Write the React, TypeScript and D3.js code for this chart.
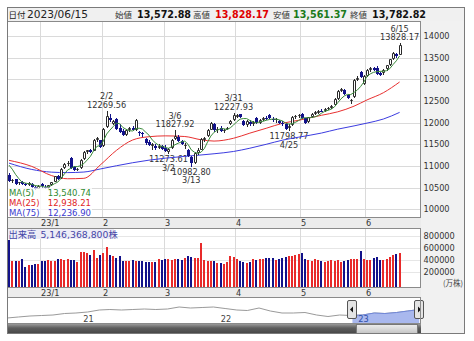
import React from "react";
import * as d3 from "d3";

// ---------------- DATA ----------------
const decDays = ["19","20","21","22","23","26","27","28","29","30"];
const janDays = ["04","05","06","10","11","12","13","16","17","18","19","20","23","24","25","26","27","30","31"];
const febDays = ["01","02","03","06","07","08","09","10","13","14","15","16","17","20","21","22","24","27","28"];
const marDays = ["01","02","03","06","07","08","09","10","13","14","15","16","17","20","22","23","24","27","28","29","30","31"];
const aprDays = ["03","04","05","06","07","10","11","12","13","14","17","18","19","20","21","24","25","26","27","28"];
const mayDays = ["01","02","08","09","10","11","12","15","16","17","18","19","22","23","24","25","26","29","30","31"];
const junDays = ["01","02","05","06","07","08","09","12","13","14","15"];

const tradingDays: string[] = [
  ...decDays.map((d) => "2022-12-" + d),
  ...janDays.map((d) => "2023-01-" + d),
  ...febDays.map((d) => "2023-02-" + d),
  ...marDays.map((d) => "2023-03-" + d),
  ...aprDays.map((d) => "2023-04-" + d),
  ...mayDays.map((d) => "2023-05-" + d),
  ...junDays.map((d) => "2023-06-" + d),
];

// [open, high, low, close]
const candles: number[][] = [
  [10800,10830,10640,10660],[10650,10700,10600,10680],[10690,10700,10560,10580],[10600,10640,10550,10620],
  [10620,10650,10560,10590],[10580,10610,10530,10560],[10570,10620,10540,10600],[10590,10600,10500,10520],
  [10510,10540,10440,10470],[10480,10560,10460,10540],
  [10580,10600,10500,10530],[10520,10570,10470,10500],[10500,10560,10470,10550],[10560,10640,10540,10620],
  [10640,10780,10620,10760],[10770,10790,10680,10710],[10720,10960,10700,10940],[10950,11060,10930,11040],
  [11050,11110,11010,11080],[11180,11200,10940,10960],[10980,11000,10890,10910],[10920,10960,10880,10940],
  [10960,11160,10940,11140],[11150,11350,11130,11330],[11320,11380,11280,11360],[11360,11400,11300,11330],
  [11350,11620,11340,11600],[11590,11660,11560,11640],[11600,11610,11420,11440],
  [11460,11880,11440,11860],[11900,12269.56,11880,12150],[12100,12200,12020,12050],[11960,12060,11940,12040],
  [12080,12110,11820,11850],[11880,11960,11760,11780],[11800,11850,11690,11720],[11720,11860,11700,11840],
  [11830,11900,11790,11880],[11870,11930,11800,11820],[11830,12080,11810,12050],[11780,11800,11700,11770],
  [11760,11780,11680,11740],[11620,11640,11480,11520],[11560,11600,11460,11480],[11460,11530,11380,11500],
  [11470,11500,11380,11420],[11420,11500,11400,11470],[11460,11480,11360,11400],
  [11420,11480,11320,11350],[11330,11420,11273.61,11400],[11420,11620,11400,11600],[11620,11827.92,11600,11700],
  [11680,11720,11560,11580],[11570,11600,11480,11500],[11450,11520,11400,11490],[11380,11400,11200,11230],
  [11200,11240,10982.80,11060],[11080,11320,11050,11300],[11310,11420,11260,11380],[11380,11650,11360,11620],
  [11600,11680,11560,11640],[11700,11860,11680,11820],[11830,12020,11820,11990],[11960,11990,11780,11820],
  [11820,11900,11760,11860],[11880,11920,11780,11800],[11800,11860,11760,11830],[11870,11900,11820,11880],
  [11960,12060,11940,12040],[12060,12227.93,12040,12180],
  [12140,12200,12100,12180],[12190,12210,12110,12120],[12040,12070,11920,11950],[11940,12060,11910,12040],
  [12020,12050,11930,11960],[11960,12040,11930,12020],[12100,12130,11970,12000],[12000,12090,11980,12070],
  [12070,12120,12030,12100],[12110,12160,12050,12080],[12180,12200,12090,12110],[12080,12130,12010,12050],
  [12050,12110,12000,12080],[12040,12060,11970,12000],[12000,12040,11930,11960],[11960,12000,11820,11860],
  [11880,11960,11798.77,11930],[11950,12160,11930,12130],[12120,12170,12080,12150],[12150,12200,12110,12180],
  [12200,12220,12090,12110],[12100,12110,11980,12000],[12010,12140,11990,12120],[12130,12230,12100,12200],
  [12200,12260,12180,12240],[12230,12290,12200,12270],[12280,12310,12240,12260],[12270,12330,12250,12320],
  [12320,12360,12290,12330],[12330,12400,12310,12380],[12400,12560,12380,12540],[12540,12760,12520,12730],
  [12740,12790,12700,12770],[12760,12780,12640,12660],[12640,12660,12540,12560],[12520,12540,12440,12520],
  [12600,13000,12580,12980],[12990,13080,12950,13040],[13160,13200,13040,13060],[12900,13100,12880,13070],
  [13080,13230,13060,13210],[13220,13280,13180,13250],[13260,13290,13200,13220],[13260,13300,13110,13130],
  [13150,13180,13080,13110],[13140,13240,13110,13220],[13240,13340,13200,13320],[13330,13480,13300,13460],
  [13470,13620,13450,13600],[13580,13610,13500,13540],[13572.88,13828.17,13561.37,13782.82],
];

// closes of the 4 sessions before the first visible day (for MA5)
const priorCloses = [11150, 11180, 11100, 11010];

// volume in 万株
const volumes: number[] = [
  733000,390000,390000,390000,410000,290000,320000,310000,340000,330000,
  380000,380000,400000,380000,380000,410000,420000,400000,410000,400000,400000,370000,528000,528000,510000,480000,564000,430000,480000,
  520000,617000,480000,470000,440000,470000,380000,380000,380000,400000,390000,390000,390000,370000,370000,370000,360000,420000,400000,
  420000,420000,400000,420000,420000,400000,430000,460000,450000,440000,430000,688000,400000,390000,380000,380000,350000,350000,340000,370000,467000,450000,
  411000,383000,372000,356000,372000,411000,400000,411000,411000,428000,433000,439000,400000,411000,433000,444000,472000,472000,480000,494000,
  511000,411000,400000,389000,420000,400000,389000,372000,383000,400000,389000,400000,372000,389000,400000,410000,417000,410000,556000,410000,
  400000,400000,433000,447000,400000,400000,417000,447000,480000,500000,514637,
];

const ma25Dates = ["2022-12-19","2022-12-28","2023-01-10","2023-01-17","2023-01-24","2023-01-31","2023-02-07","2023-02-14","2023-02-21","2023-03-01","2023-03-09","2023-03-16","2023-03-23","2023-03-31","2023-04-07","2023-04-14","2023-04-21","2023-04-28","2023-05-12","2023-05-19","2023-05-26","2023-06-01","2023-06-08","2023-06-15"];
const ma25Values = [11130,10990,10780,10705,10715,11020,11360,11600,11675,11695,11680,11605,11575,11640,11758,11870,11985,12055,12170,12250,12380,12525,12690,12938.21];
const ma75Values = [11066,10920,10858,10847,10860,10930,11005,11075,11134,11180,11222,11254,11282,11335,11410,11500,11595,11665,11760,11850,11925,11990,12083,12236.90];

const priceTicks = [10000, 10500, 11000, 11500, 12000, 12500, 13000, 13500, 14000];
const volumeTicks = [200000, 400000, 600000, 800000];
const monthStarts = ["2023-01-04","2023-02-01","2023-03-01","2023-04-03","2023-05-01","2023-06-01"];
const monthLabels = ["23/1","2","3","4","5","6"];

const annotations = [
  { date: "2023-02-02", kind: "high", value: 12269.56 },
  { date: "2023-03-02", kind: "low", value: 11273.61 },
  { date: "2023-03-06", kind: "high", value: 11827.92 },
  { date: "2023-03-13", kind: "low", value: 10982.80 },
  { date: "2023-03-31", kind: "high", value: 12227.93 },
  { date: "2023-04-25", kind: "low", value: 11798.77 },
  { date: "2023-06-15", kind: "high", value: 13828.17 },
];

const headerDate = "2023/06/15";
const headerLabels = ["始値", "高値", "安値", "終値"];
const headerValues = [13572.88, 13828.17, 13561.37, 13782.82];

const maNames = ["MA(5)", "MA(25)", "MA(75)"];
const maLatest = [13540.74, 12938.21, 12236.9];

const volumeLatestShares = 5146368800;

const navMonths = ["2020-06","2020-07","2020-08","2020-09","2020-10","2020-11","2020-12","2021-01","2021-02","2021-03","2021-04","2021-05","2021-06","2021-07","2021-08","2021-09","2021-10","2021-11","2021-12","2022-01","2022-02","2022-03","2022-04","2022-05","2022-06","2022-07","2022-08","2022-09","2022-10","2022-11","2022-12","2023-01","2023-02","2023-03","2023-04","2023-05","2023-06"];
const navValues = [9050,9400,9750,9925,10100,10625,10800,11150,11850,12025,11850,12025,12200,12025,12200,12900,12550,12725,12900,12375,11850,11675,12550,11500,10800,10800,10975,10100,9575,10100,9925,10100,10800,10625,10975,11500,12025];
const navYears = ["2021-01-01", "2022-01-01", "2023-01-01"];
const navYearLabels = ["21", "22", "23"];

// ---------------- LAYOUT / STYLE ----------------
const FONT = "'DejaVu Sans', Verdana, sans-serif";
const CJK = "'Noto Sans CJK JP', sans-serif";
const L = 7, R = 421, RA = 465;
const HEAD_T = 7, HEAD_B = 21;
const P_T = 21, P_B = 218;
const V_T = 228, V_B = 288;
const N_T = 297, N_B = 324, SC_B = 334;
const UP_STROKE = "#2a2a2a";
const DOWN_FILL = "#12128a";
const RED = "#e82a2a";
const GRID = "#dadada";

export default function App() {
  const parse = d3.timeParse("%Y-%m-%d");
  const x = d3.scalePoint<string>().domain(tradingDays).range([9, 399.6]);
  const step = x.step();
  const y = d3.scaleLinear().domain([10000, 14000]).range([209.3, 36]);
  const yv = d3.scaleLinear().domain([0, 800000]).range([284, 236]);

  const closesAll = [...priorCloses, ...candles.map((c) => c[3])];
  const ma5 = tradingDays.map((d, i) => ({ d, v: d3.mean(closesAll.slice(i, i + 5)) as number }));

  const lineLin = d3.line<{ d: string; v: number }>().x((p) => x(p.d)!).y((p) => y(p.v));
  const lineSmooth = d3.line<{ d: string; v: number }>().x((p) => x(p.d)!).y((p) => y(p.v)).curve(d3.curveMonotoneX);
  const ma25 = ma25Dates.map((d, i) => ({ d, v: ma25Values[i] }));
  const ma75 = ma25Dates.map((d, i) => ({ d, v: ma75Values[i] }));

  const gridX = (d: string) => Math.round(x(d)! - step / 2) + 0.5;

  // navigator
  const xn = d3.scaleTime().domain([parse("2020-06-15")!, parse("2023-06-19")!]).range([L, R]);
  const yn = d3.scaleLinear().domain([8000, 15000]).range([321, 301]);
  const navPts = navMonths.map((m, i) => ({ t: parse(m + "-15")!, v: navValues[i] }));
  const navLine = d3.line<{ t: Date; v: number }>().x((p) => xn(p.t)).y((p) => yn(p.v));
  const navArea = d3.area<{ t: Date; v: number }>().x((p) => xn(p.t)).y0(N_B).y1((p) => yn(p.v));
  const selX0 = xn(parse(tradingDays[0])!);
  const selX1 = xn(parse(tradingDays[tradingDays.length - 1])!);

  const fmt2 = d3.format(",.2f");
  const mdFmt = (s: string) => { const t = parse(s)!; return `${t.getMonth() + 1}/${t.getDate()}`; };

  const headerColors = ["#111", "#e00000", "#1a7a1a", "#111"];
  const headerLabelX = [115, 193, 273, 350];
  const headerValueX = [137, 215, 293, 372];
  const maColors = ["#2f8a2f", "#e02424", "#3a3ad0"];

  return (
    <svg width={474} height={341} style={{ position: "absolute", left: 0, top: 0, background: "#fff" }} fontFamily={FONT}>
      <defs>
        <clipPath id="plotClip"><rect x={L} y={P_T} width={R - L} height={P_B - P_T} /></clipPath>
        <clipPath id="volClip"><rect x={L} y={V_T} width={R - L} height={V_B - V_T} /></clipPath>
        <clipPath id="navClip"><rect x={L} y={N_T} width={R - L} height={N_B - N_T} /></clipPath>
        <clipPath id="selClip"><rect x={selX0} y={N_T} width={selX1 - selX0} height={N_B - N_T} /></clipPath>
        <linearGradient id="scrollGrad" x1="0" y1="0" x2="0" y2="1">
          <stop offset="0" stopColor="#9a9a9a" />
          <stop offset="0.4" stopColor="#5e5e5e" />
          <stop offset="1" stopColor="#444" />
        </linearGradient>
        <linearGradient id="thumbGrad" x1="0" y1="0" x2="0" y2="1">
          <stop offset="0" stopColor="#eeeeee" />
          <stop offset="1" stopColor="#c4c4c4" />
        </linearGradient>
      </defs>

      {/* header */}
      <rect x={L + 0.5} y={HEAD_T + 0.5} width={RA - L - 1} height={HEAD_B - HEAD_T} fill="#f0f0f0" stroke="#8a8a8a" />
      <text x={8.5} y={17.5} fontFamily={CJK} fontSize={8.5} fill="#222">日付</text>
      <text x={27} y={18} fontSize={10.6} fill="#222">{headerDate}</text>
      {headerLabels.map((lab, i) => (
        <g key={lab}>
          <text x={headerLabelX[i]} y={17.5} fontFamily={CJK} fontSize={8.5} fill="#333">{lab}</text>
          <text x={headerValueX[i]} y={18} fontSize={9.6} fontWeight="bold" fill={headerColors[i]}>{fmt2(headerValues[i])}</text>
        </g>
      ))}

      {/* main panel backgrounds */}
      <rect x={L} y={P_T} width={R - L} height={P_B - P_T} fill="#fff" />
      <rect x={R} y={P_T} width={RA - R} height={SC_B - P_T} fill="#f1f1f1" />
      <rect x={L} y={P_B} width={R - L} height={V_T - P_B} fill="#ececec" />
      <rect x={L} y={V_B} width={R - L} height={N_T - V_B} fill="#ececec" />

      {/* price grid */}
      {priceTicks.map((t) => (
        <line key={t} x1={L} x2={R} y1={Math.round(y(t)) + 0.5} y2={Math.round(y(t)) + 0.5} stroke={GRID} />
      ))}
      {monthStarts.map((d) => (
        <line key={d} x1={gridX(d)} x2={gridX(d)} y1={P_T} y2={P_B} stroke={GRID} />
      ))}

      <g clipPath="url(#plotClip)">
        {/* annotation labels */}
        {annotations.map((a) => {
          const ax = x(a.date)!;
          const yy = y(a.value);
          const isHigh = a.kind === "high";
          return (
            <g key={a.date} fontSize={8.2} fill="#333" textAnchor="middle">
              <text x={ax} y={isHigh ? yy - 11.5 : yy + 16.5}>{mdFmt(a.date)}</text>
              <text x={ax} y={isHigh ? yy - 3 : yy + 8}>{a.value.toFixed(2)}</text>
            </g>
          );
        })}

        <path d={lineSmooth(ma75) || ""} fill="none" stroke="#3c3ce0" strokeWidth={1} />
        <path d={lineSmooth(ma25) || ""} fill="none" stroke="#e83030" strokeWidth={1} />

        {/* candles */}
        {candles.map((c, i) => {
          const d = tradingDays[i];
          const cx = Math.round(x(d)!);
          const [o, h, l, cl] = c;
          const top = Math.round(y(Math.max(o, cl)));
          const bot = Math.round(y(Math.min(o, cl)));
          const up = cl >= o;
          return (
            <g key={d}>
              <line x1={cx + 0.5} x2={cx + 0.5} y1={Math.round(y(h))} y2={Math.round(y(l))} stroke={up ? UP_STROKE : DOWN_FILL} />
              {up ? (
                <path d={`M${cx - 0.5},${top + 0.5}h2v${Math.max(bot - top - 1, 0)}h-2Z`} fill="#fff" stroke={UP_STROKE} />
              ) : (
                <rect x={cx - 1} y={top} width={3} height={Math.max(bot - top, 1)} fill={DOWN_FILL} />
              )}
            </g>
          );
        })}

        <path d={lineLin(ma5) || ""} fill="none" stroke="#3a8a3a" strokeWidth={1} />
      </g>

      {/* MA legend */}
      <rect x={L} y={187.5} width={85} height={31} fill="#fff" fillOpacity={0.78} />
      {maNames.map((n, i) => (
        <g key={n} fontSize={8.5} fill={maColors[i]}>
          <text x={9} y={196 + i * 10}>{n}</text>
          <text x={91} y={196 + i * 10} textAnchor="end">{fmt2(maLatest[i])}</text>
        </g>
      ))}

      {/* price axis labels */}
      {priceTicks.map((t) => (
        <text key={t} x={423.5} y={y(t)} dy="0.35em" fontSize={8.2} fill="#333">{t}</text>
      ))}

      {/* date labels (main) */}
      {monthStarts.map((d, i) => (
        <text key={d} x={gridX(d) + 0.5} y={226} fontSize={8.2} fill="#333">{monthLabels[i]}</text>
      ))}

      {/* volume panel */}
      <rect x={L} y={V_T} width={R - L} height={V_B - V_T} fill="#fff" />
      {volumeTicks.map((t) => (
        <line key={t} x1={L} x2={R} y1={Math.round(yv(t)) + 0.5} y2={Math.round(yv(t)) + 0.5} stroke="#e6e6e6" />
      ))}
      {monthStarts.map((d) => (
        <line key={d} x1={gridX(d)} x2={gridX(d)} y1={V_T} y2={V_B} stroke={GRID} />
      ))}
      <g clipPath="url(#volClip)">
        {volumes.map((v, i) => {
          const d = tradingDays[i];
          const c = candles[i];
          const top = Math.round(yv(v));
          return (
            <rect key={d} x={Math.round(x(d)! - 1)} y={top} width={2} height={V_B - top} fill={c[3] >= c[0] ? RED : DOWN_FILL} />
          );
        })}
      </g>
      <rect x={L} y={V_T + 0.5} width={107} height={10.5} fill="#ececf6" fillOpacity={0.92} />
      <text x={8.5} y={237.5} fontSize={9.3} fill="#4646a6">
        <tspan fontFamily={CJK}>出来高</tspan>
        <tspan dx={4}>{d3.format(",")(volumeLatestShares)}</tspan>
        <tspan fontFamily={CJK}>株</tspan>
      </text>
      {volumeTicks.map((t) => (
        <text key={t} x={423.5} y={yv(t)} dy="0.35em" fontSize={8.2} fill="#333">{t}</text>
      ))}
      <text x={463} y={286} fontSize={7.5} fontFamily={CJK} fill="#444" textAnchor="end">(万株)</text>

      {/* date labels (volume) */}
      {monthStarts.map((d, i) => (
        <text key={d} x={gridX(d) + 0.5} y={295.5} fontSize={8.2} fill="#333">{monthLabels[i]}</text>
      ))}

      {/* navigator */}
      <rect x={L} y={N_T} width={R - L} height={N_B - N_T} fill="#fff" />
      <g clipPath="url(#navClip)">
        <path d={navLine(navPts) || ""} fill="none" stroke="#9a9a9a" strokeWidth={1} />
        <g clipPath="url(#selClip)">
          <path d={navArea(navPts) || ""} fill="#a9b8ee" />
          <path d={navLine(navPts) || ""} fill="none" stroke="#6f86d8" strokeWidth={1} />
        </g>
      </g>
      {navYears.map((yr, i) => (
        <text key={yr} x={xn(parse(yr)!) + 1} y={322} fontSize={8.2} fill={i === 2 ? "#3050a8" : "#444"}>{navYearLabels[i]}</text>
      ))}
      {/* handles */}
      <g>
        <rect x={Math.round(selX0) - 4.5} y={300.5} width={9} height={18} rx={1.5} fill="#e4e4e4" stroke="#555" />
        <path d={`M${Math.round(selX0) - 2},${309.5}l3,-3v6Z`} fill="#111" />
        <rect x={Math.round(selX1) - 4.5} y={300.5} width={9} height={18} rx={1.5} fill="#e4e4e4" stroke="#555" />
        <path d={`M${Math.round(selX1) + 2},${309.5}l-3,-3v6Z`} fill="#111" />
      </g>

      {/* scrollbar */}
      <rect x={L} y={N_B} width={R - L} height={SC_B - N_B} fill="url(#scrollGrad)" />
      <rect x={selX0 + 4} y={N_B + 0.5} width={selX1 - selX0 - 6} height={SC_B - N_B - 1} fill="url(#thumbGrad)" stroke="#777" />

      {/* frames */}
      <rect x={L + 0.5} y={P_T + 0.5} width={R - L - 1} height={P_B - P_T - 1} fill="none" stroke="#8a8a8a" />
      <rect x={L + 0.5} y={V_T + 0.5} width={R - L - 1} height={V_B - V_T - 1} fill="none" stroke="#8a8a8a" />
      <rect x={L + 0.5} y={N_T + 0.5} width={R - L - 1} height={N_B - N_T - 1} fill="none" stroke="#8a8a8a" />
      <rect x={L + 0.5} y={HEAD_T + 0.5} width={RA - L - 1} height={SC_B - HEAD_T - 1} fill="none" stroke="#7a7a7a" />
    </svg>
  );
}
